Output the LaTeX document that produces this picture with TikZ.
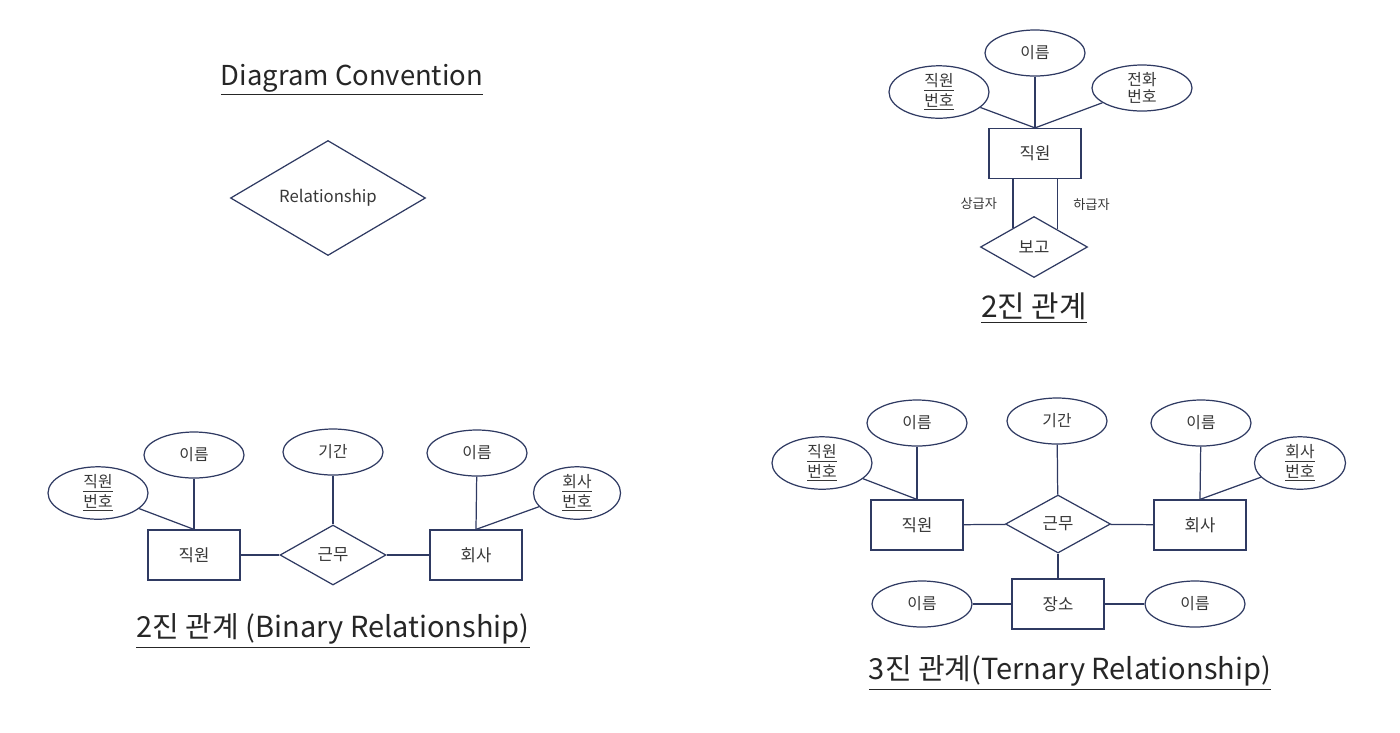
\documentclass[tikz,border=0pt]{standalone}
\usepackage{fontspec}
\setmainfont{Noto Sans CJK KR}
\usetikzlibrary{shapes.geometric,calc}
\definecolor{linec}{RGB}{47,58,98}
\definecolor{txtc}{RGB}{55,55,55}
\tikzstyle{ln}=[draw=linec, line width=0.7pt]
\tikzstyle{ent}=[shape=rectangle,
                draw=linec,
                line width=0.7pt,
                minimum width=18.4mm,
                minimum height=10mm,
                text=txtc,
                font=\fontsize{9.5}{11}\selectfont]
\tikzstyle{att}=[shape=ellipse,
                draw=linec,
                line width=0.7pt,
                minimum width=20mm,
                minimum height=9.2mm,
                inner sep=0pt,
                align=center,
                text=txtc,
                font=\fontsize{9}{10}\selectfont]
\tikzstyle{rel}=[shape=diamond,
                draw=linec,
                line width=0.7pt,
                minimum width=21.2mm,
                minimum height=12mm,
                inner sep=0pt,
                text=txtc,
                font=\fontsize{9.5}{11}\selectfont]
\tikzstyle{ttl}=[text=black!85, font=\fontsize{16.5}{19}\selectfont]
\tikzstyle{lbl}=[text=txtc, font=\fontsize{7.5}{9}\selectfont]

\begin{document}
\begin{tikzpicture}[x=0.2mm,y=-0.2mm]
\useasboundingbox (0,0) rectangle (1400,732);

% diagram convention
\node[ttl,font=\fontsize{15.6}{18}\selectfont] (conv) at (352,80) {\underline{Diagram Convention}};
\node[rel,minimum width=39mm,minimum height=23mm,font=\fontsize{9.5}{11}\selectfont] (relc) at (328,198) {Relationship};

% recursive relationship
\node[att] (nm0) at (1035,53)  {이름};
\node[att] (no0) at (939,92)   {\underline{직원}\\\underline{번호}};
\node[att] (ph0) at (1142,88)  {전화\\번호};
\node[ent] (emp0) at (1035,153.5) {직원};
\node[rel,minimum width=21.4mm,minimum height=12.2mm] (rep0) at (1034,247) {보고};
\node[ttl,font=\fontsize{17}{20}\selectfont] (t0) at (1034,308) {\underline{2진 관계}};

\coordinate (ul) at ($(rep0.north)!0.39!(rep0.west)$);
\coordinate (ur) at ($(rep0.north)!0.43!(rep0.east)$);

\path[ln] (nm0) edge (emp0.north);
\path[ln] (no0) edge (emp0.north);
\path[ln] (ph0) edge (emp0.north);
\draw[ln] (emp0.south -| ul) -- node[left=1.9mm,lbl] {상급자} (ul);
\draw[ln] (emp0.south -| ur) -- node[right=1.9mm,lbl] {하급자} (ur);

% binary relationship
\node[att] (nm1) at (194,455)  {이름};
\node[att] (no1) at (98,493)   {\underline{직원}\\\underline{번호}};
\node[ent] (emp1) at (194,555) {직원};
\node[att] (dur1) at (333,452) {기간};
\node[rel] (wrk1) at (333,555) {근무};
\node[ent] (com1) at (476,555) {회사};
\node[att] (nm2) at (477,453)  {이름};
\node[att,minimum width=17.4mm] (cno1) at (577,493) {\underline{회사}\\\underline{번호}};
\node[ttl] (t1) at (333,631) {\underline{2진 관계 (Binary Relationship)}};

\path[ln] (nm1) edge (emp1.north);
\path[ln] (no1) edge (emp1.north);
\path[ln] (dur1) edge (wrk1);
\path[ln] (emp1) edge (wrk1);
\path[ln] (wrk1) edge (com1);
\path[ln] (nm2) edge (com1.north);
\path[ln] (cno1) edge (com1.north);

% ternary relationship
\node[att] (nm3) at (917,423)  {이름};
\node[att] (no3) at (822,463)  {\underline{직원}\\\underline{번호}};
\node[ent] (emp3) at (917,525) {직원};
\node[att] (dur3) at (1057,421) {기간};
\node[rel,minimum width=21mm,minimum height=11.6mm] (wrk3) at (1058,524) {근무};
\node[ent] (com3) at (1200,525) {회사};
\node[att] (nm4) at (1201,423) {이름};
\node[att,minimum width=18.2mm] (cno3) at (1300,463) {\underline{회사}\\\underline{번호}};
\node[ent] (loc3) at (1058,604) {장소};
\node[att] (nm5) at (922,604)  {이름};
\node[att] (nm6) at (1195,604) {이름};
\node[ttl] (t3) at (1070,673) {\underline{3진 관계(Ternary Relationship)}};

\path[ln] (nm3) edge (emp3.north);
\path[ln] (no3) edge (emp3.north);
\path[ln] (dur3) edge (wrk3);
\path[ln] (emp3) edge (wrk3);
\path[ln] (wrk3) edge (com3);
\path[ln] (nm4) edge (com3.north);
\path[ln] (cno3) edge (com3.north);
\path[ln] (wrk3) edge (loc3);
\path[ln] (nm5) edge (loc3);
\path[ln] (loc3) edge (nm6);

\end{tikzpicture}
\end{document}
